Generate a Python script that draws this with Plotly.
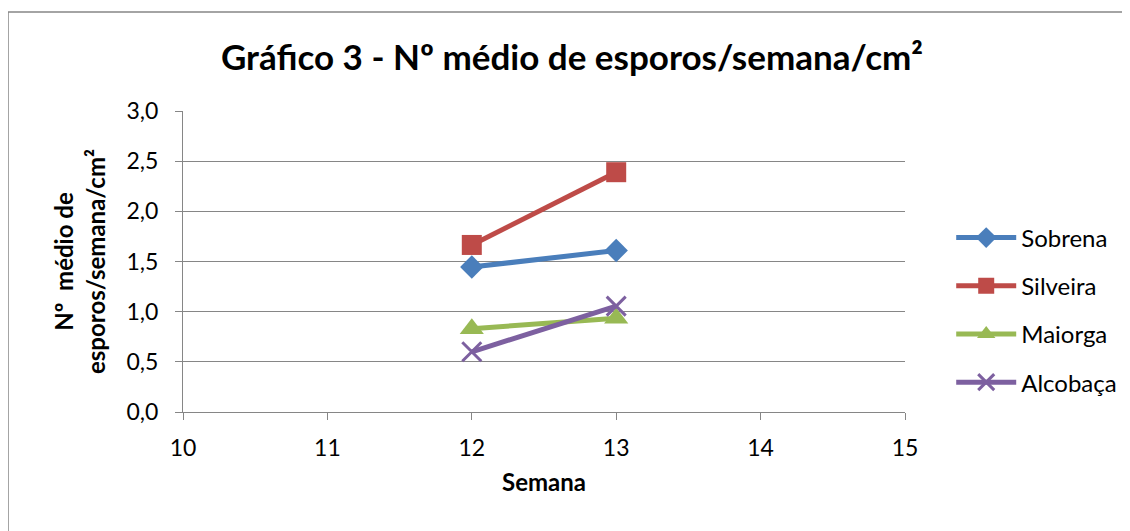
import plotly.graph_objects as go

weeks = [12, 13]
series_names = ["Sobrena", "Silveira", "Maiorga", "Alcobaça"]
sobrena = [1.445, 1.61]
silveira = [1.665, 2.39]
maiorga = [0.83, 0.935]
alcobaca = [0.60, 1.055]
x_ticks = [10, 11, 12, 13, 14, 15]
y_ticks = [0.0, 0.5, 1.0, 1.5, 2.0, 2.5, 3.0]

colors = ["#4a7ebb", "#be4b48", "#98b954", "#7d60a0"]
symbols = ["diamond", "square", "triangle-up", "x-thin"]
sizes = [18, 20, 21, 19]
values = [sobrena, silveira, maiorga, alcobaca]

FONT = "Lato"
fig = go.Figure()
for i, (name, vals) in enumerate(zip(series_names, values)):
    marker = dict(symbol=symbols[i], size=sizes[i], color=colors[i])
    if symbols[i] == "x-thin":
        marker["line"] = dict(color=colors[i], width=3)
    fig.add_trace(go.Scatter(
        x=weeks, y=vals, name=name, mode="lines+markers",
        line=dict(color=colors[i], width=5),
        marker=marker, legendgroup=name,
    ))

fig.update_layout(
    width=1130, height=531,
    margin=dict(l=175, r=233, t=103, b=127),
    paper_bgcolor="white", plot_bgcolor="white",
    separators=",.",
    font=dict(family=FONT, color="#000000", size=23),
    title=dict(text="<b>Gráfico 3 - Nº médio de esporos/semana/cm²</b>",
               x=(572 - 8) / 1130, xanchor="center", y=1 - 50 / 531, yanchor="middle",
               font=dict(size=35, family=FONT)),
    xaxis=dict(range=[10, 15], tickvals=x_ticks, showgrid=False,
               showline=True, linecolor="#868686", linewidth=1,
               ticks="outside", ticklen=7, tickcolor="#868686",
               ticklabelstandoff=8,
               zeroline=False, tickfont=dict(size=23),
               title=dict(text="<b>Semana</b>", font=dict(size=24), standoff=14)),
    yaxis=dict(range=[0, 3], tickvals=y_ticks, tickformat=".1f",
               showgrid=True, gridcolor="#868686", gridwidth=1,
               showline=True, linecolor="#868686", linewidth=1,
               ticks="outside", ticklen=7, tickcolor="#868686",
               ticklabelstandoff=12,
               zeroline=False, tickfont=dict(size=23),
               title=dict(text="<b>Nº  médio de<br>esporos/semana/cm²</b>",
                          font=dict(size=24), standoff=14)),
    legend=dict(x=1.064, y=0.339, xanchor="left", yanchor="middle",
                font=dict(size=24), tracegroupgap=14, traceorder="grouped",
                itemwidth=60, bgcolor="rgba(0,0,0,0)"),
    showlegend=True,
)

fig.add_shape(type="rect", xref="paper", yref="paper",
              x0=-175 / 722, x1=1.4, y0=-0.6, y1=400 / 301,
              line=dict(color="#868686", width=1.5), layer="below")

fig.write_html("out.html")
